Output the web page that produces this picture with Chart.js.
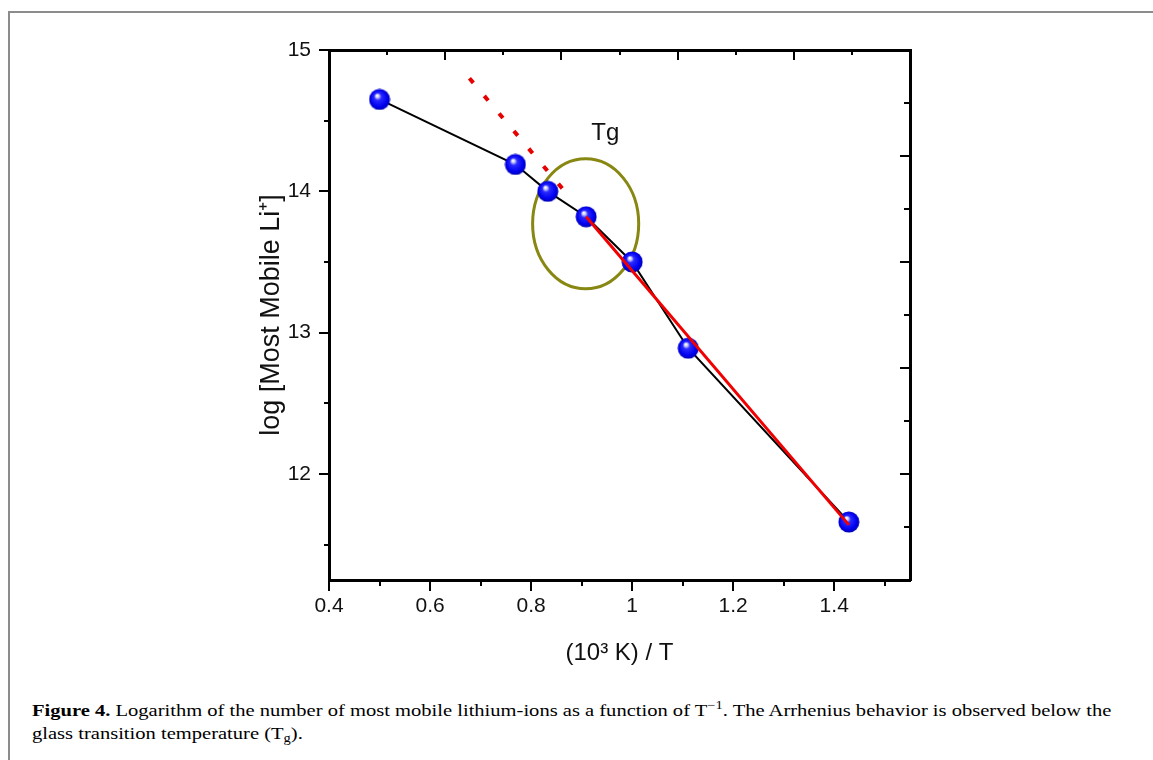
<!DOCTYPE html>
<html>
<head>
<meta charset="utf-8">
<script src="https://cdn.jsdelivr.net/npm/chart.js@4.4.1/dist/chart.umd.min.js"></script>
<style>
  body { margin: 0; background: #fff; width: 1153px; height: 760px; overflow: hidden; position: relative; }
  #frame { position: absolute; left: 8px; top: 11px; right: 0; bottom: 0; border-top: 2px solid #8c8c8c; border-left: 2px solid #8c8c8c; }
  #plot { position: absolute; left: 0; top: 0; }
  #caption { position: absolute; left: 32px; top: 699px; font-family: "Liberation Serif", "DejaVu Serif", serif; font-size: 17px; line-height: 23px; color: #000; }
  #caption .line { white-space: nowrap; transform-origin: 0 0; }
  #caption sup, #caption sub { font-size: 12px; line-height: 0; position: relative; vertical-align: baseline; }
  #caption sup { top: -7px; }
  #caption sub { top: 3px; }
</style>
</head>
<body>
<div id="frame"></div>
<canvas id="plot" width="1153" height="690"></canvas>
<div id="caption">
  <div class="line"><b>Figure 4.</b> Logarithm of the number of most mobile lithium-ions as a function of T<sup>&minus;1</sup>. The Arrhenius behavior is observed below the</div>
  <div class="line">glass transition temperature (T<sub>g</sub>).</div>
</div>
<script>
// 10^3 K / T and log of the most mobile Li+ count
const invT = [0.5, 0.769, 0.833, 0.909, 1.0, 1.111, 1.429];
const logMobile = [14.65, 14.19, 14.0, 13.82, 13.5, 12.89, 11.66];

// Arrhenius fit below Tg and its dotted extension
const fitX = [0.909, 1.429];
const fitY = [13.82, 11.64];
const extX = [0.678, 0.883];
const extY = [14.80, 13.93];

// Tg marker ellipse (center, radii in axis units) and its label
const tgCenter = [0.908, 13.77];
const tgRadius = [0.105, 0.46];
const tgLabel = 'Tg';
const tgLabelPos = [0.947, 14.36];

const xTicks = [0.4, 0.5, 0.6, 0.7, 0.8, 0.9, 1.0, 1.1, 1.2, 1.3, 1.4, 1.5];
const xTickLabels = { '0.4': '0.4', '0.6': '0.6', '0.8': '0.8', '1.0': '1', '1.2': '1.2', '1.4': '1.4' };
const yTicks = [11.5, 12, 12.5, 13, 13.5, 14, 14.5, 15];
const yTickLabels = { '12': '12', '13': '13', '14': '14', '15': '15' };
const frameTicks = [1, 2, 3, 4, 5, 6, 7, 8, 9];

const xTitle = '(10\u00B3 K) / T';
const yTitle = 'log [Most Mobile Li\u207A]';

const toPts = (xs, ys) => xs.map((x, i) => ({ x: x, y: ys[i] }));

// shaded blue ball used as the point style
const ball = document.createElement('canvas');
ball.width = 22; ball.height = 22;
(function () {
  const g = ball.getContext('2d');
  const grad = g.createRadialGradient(8.5, 7, 0.5, 11, 11, 11);
  grad.addColorStop(0, '#ffffff');
  grad.addColorStop(0.12, '#c8c8ff');
  grad.addColorStop(0.3, '#2a2aff');
  grad.addColorStop(0.75, '#0000f0');
  grad.addColorStop(1, '#0000a8');
  g.fillStyle = grad;
  g.beginPath();
  g.arc(11, 11, 10.5, 0, Math.PI * 2);
  g.fill();
})();

// tick marks: outward on bottom/left, inward on top/right
const tickMarks = {
  id: 'tickMarks',
  afterDraw(chart) {
    const { ctx, chartArea: a, scales } = chart;
    ctx.save();
    ctx.strokeStyle = '#000';
    ctx.lineWidth = 2;
    const mark = (x1, y1, x2, y2) => { ctx.beginPath(); ctx.moveTo(x1, y1); ctx.lineTo(x2, y2); ctx.stroke(); };
    scales.x.ticks.forEach(t => {
      const px = Math.round(scales.x.getPixelForValue(t.value));
      mark(px, a.bottom, px, a.bottom + (t.label ? 11 : 6));
    });
    scales.y.ticks.forEach(t => {
      const py = Math.round(scales.y.getPixelForValue(t.value));
      mark(a.left, py, a.left - (t.label ? 10 : 5), py);
    });
    scales.x2.ticks.forEach(t => {
      const px = Math.round(scales.x2.getPixelForValue(t.value));
      mark(px, a.top, px, a.top + (t.value % 2 === 0 ? 10 : 5));
    });
    scales.y2.ticks.forEach(t => {
      const py = Math.round(scales.y2.getPixelForValue(t.value));
      mark(a.right, py, a.right - (t.value % 2 === 0 ? 10 : 6), py);
    });
    ctx.restore();
  }
};

const tgMark = {
  id: 'tgMark',
  beforeDatasetsDraw(chart) {
    const { ctx, scales: { x, y } } = chart;
    const cx = x.getPixelForValue(tgCenter[0]);
    const cy = y.getPixelForValue(tgCenter[1]);
    const rx = x.getPixelForValue(tgCenter[0] + tgRadius[0]) - cx;
    const ry = cy - y.getPixelForValue(tgCenter[1] + tgRadius[1]);
    ctx.save();
    ctx.strokeStyle = '#878712';
    ctx.lineWidth = 3;
    ctx.beginPath();
    ctx.ellipse(cx, cy, rx, ry, 0, 0, Math.PI * 2);
    ctx.stroke();
    ctx.restore();
  },
  afterDatasetsDraw(chart) {
    const { ctx, scales: { x, y } } = chart;
    ctx.save();
    ctx.font = '24px "Liberation Sans", Arial, sans-serif';
    ctx.fillStyle = '#111';
    ctx.textAlign = 'center';
    ctx.textBaseline = 'alphabetic';
    ctx.fillText(tgLabel, x.getPixelForValue(tgLabelPos[0]), y.getPixelForValue(tgLabelPos[1]));
    ctx.restore();
  }
};

const tickFont = { family: '"Liberation Sans", Arial, sans-serif', size: 21 };
const axisBorder = { display: true, color: '#000', width: 3 };
const noGrid = { display: false, drawTicks: false };

new Chart(document.getElementById('plot'), {
  type: 'scatter',
  data: {
    datasets: [
      {
        label: 'Arrhenius fit',
        data: toPts(fitX, fitY),
        showLine: true,
        borderColor: '#f00000',
        borderWidth: 3,
        pointRadius: 0,
        order: 0
      },
      {
        label: 'extension',
        data: toPts(extX, extY),
        showLine: true,
        borderColor: '#e60000',
        borderWidth: 4,
        borderDash: [6, 17],
        pointRadius: 0,
        order: 0
      },
      {
        label: 'log [Most Mobile Li+]',
        data: toPts(invT, logMobile),
        showLine: true,
        borderColor: '#000',
        borderWidth: 2,
        pointStyle: ball,
        pointRadius: 10,
        order: 1
      }
    ]
  },
  options: {
    responsive: false,
    animation: false,
    devicePixelRatio: 1,
    layout: { padding: { left: 250, top: 50, right: 0, bottom: 0 } },
    plugins: { legend: { display: false }, tooltip: { enabled: false } },
    scales: {
      x: {
        type: 'linear', position: 'bottom', min: 0.4, max: 1.55,
        afterBuildTicks: s => { s.ticks = xTicks.map(v => ({ value: v })); },
        afterFit: s => { s.height = 110; },
        grid: noGrid,
        border: axisBorder,
        ticks: {
          autoSkip: false, maxRotation: 0, padding: 14, color: '#111', font: tickFont,
          callback: v => xTickLabels[v.toFixed(1)] || ''
        },
        title: {
          display: true, text: xTitle, color: '#111',
          font: { family: '"Liberation Sans", Arial, sans-serif', size: 24 },
          padding: { top: 0, bottom: 22 }
        }
      },
      y: {
        type: 'linear', position: 'left', min: 11.25, max: 15,
        afterBuildTicks: s => { s.ticks = yTicks.map(v => ({ value: v })); },
        afterFit: s => { s.width = 79; },
        grid: noGrid,
        border: axisBorder,
        ticks: {
          autoSkip: false, padding: 18, color: '#111', font: tickFont,
          callback: v => yTickLabels[String(v)] || ''
        },
        title: {
          display: true, text: yTitle, color: '#111',
          font: { family: '"Liberation Sans", Arial, sans-serif', size: 27 },
          padding: { top: 5, bottom: 0 }
        }
      },
      x2: {
        type: 'linear', position: 'top', min: 0, max: 10,
        afterBuildTicks: s => { s.ticks = frameTicks.map(v => ({ value: v })); },
        afterFit: s => { s.height = 0; },
        grid: noGrid,
        border: axisBorder,
        ticks: { display: false }
      },
      y2: {
        type: 'linear', position: 'right', min: 0, max: 10,
        afterBuildTicks: s => { s.ticks = frameTicks.map(v => ({ value: v })); },
        afterFit: s => { s.width = 243; },
        grid: noGrid,
        border: axisBorder,
        ticks: { display: false }
      }
    }
  },
  plugins: [tgMark, tickMarks]
});

// stretch both caption lines to the column width
const lines = document.querySelectorAll('#caption .line');
const sx = 1079 / lines[0].scrollWidth;
lines.forEach(l => { l.style.transform = 'scaleX(' + sx + ')'; });
</script>
</body>
</html>
